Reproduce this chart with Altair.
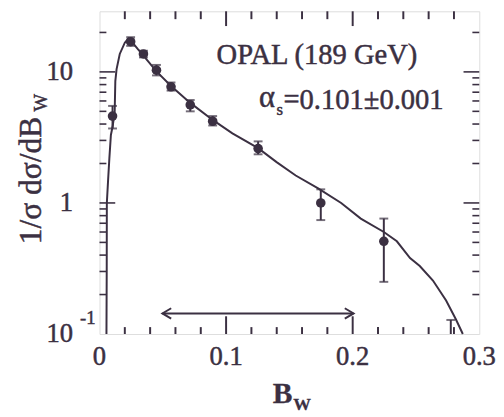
import altair as alt
import pandas as pd

INK = "#3b3042"
FONT = "Liberation Serif, Times New Roman, DejaVu Serif, serif"

# measured data points (B_W, 1/sigma dsigma/dB_W) with error bars
pt_x = [0.0103, 0.0246, 0.0347, 0.0450, 0.0565, 0.0717, 0.0894, 0.1253, 0.1748, 0.2246]
pt_y = [4.6, 17.0, 13.7, 10.3, 7.7, 5.6, 4.2, 2.6, 1.0, 0.51]
pt_lo = [3.7, 15.8, 12.9, 9.4, 7.2, 5.0, 3.9, 2.35, 0.74, 0.25]
pt_hi = [5.5, 18.4, 14.5, 11.3, 8.3, 6.1, 4.6, 2.95, 1.27, 0.76]

# partially visible error bar at the end of the range
edge_x = [0.2775]
edge_lo = [0.1]
edge_hi = [0.128]

# theory curve
cx = [0.0055, 0.0057, 0.0058, 0.0068, 0.0078, 0.0090, 0.0105, 0.0120, 0.0125, 0.0135,
      0.0160, 0.0200, 0.0228, 0.0255, 0.0303, 0.0350, 0.0450, 0.0565, 0.0717, 0.0894,
      0.1050, 0.1253, 0.1399, 0.1550, 0.1727, 0.1909, 0.2064, 0.2246, 0.2349, 0.2453,
      0.2530, 0.2634, 0.2738, 0.2816, 0.2870]
cy = [0.1, 0.3, 1.0, 1.5, 2.2, 3.3, 3.9, 5.0, 8.5, 10.5,
      13.7, 16.7, 18.0, 17.0, 14.9, 13.2, 10.1, 7.8, 5.8, 4.3,
      3.4, 2.62, 2.05, 1.62, 1.29, 1.0, 0.76, 0.60, 0.51, 0.38,
      0.33, 0.256, 0.18, 0.129, 0.1]

# fit range arrow
arrow_x = [0.0497, 0.2007]
arrow_y = [0.1436, 0.1436]

# ticks and tick labels
x_minor = [0.02, 0.04, 0.06, 0.08, 0.12, 0.14, 0.16, 0.18, 0.22, 0.24, 0.26, 0.28]
x_major = [0.1, 0.2]
y_minor = [0.2, 0.3, 0.4, 0.5, 0.6, 0.7, 0.8, 0.9, 2, 3, 4, 5, 6, 7, 8, 9, 20]
y_major = [1, 10]
x_label_pos = [0, 0.1, 0.2, 0.3]
x_label_txt = ["0", "0.1", "0.2", "0.3"]
y_label_pos = [0.1, 1, 10]
y_label_txt = ["10", "1", "10"]

W, H = 386, 328
XD = [0, 0.3]
YD = [0.1, 29.0]

xs = alt.Scale(domain=XD, nice=False, zero=False)
ys = alt.Scale(type="log", domain=YD, nice=False)
X = lambda f: alt.X(f, scale=xs, axis=None)
Y = lambda f: alt.Y(f, scale=ys, axis=None)

pts = pd.DataFrame({"x": pt_x, "y": pt_y, "lo": pt_lo, "hi": pt_hi})
edge = pd.DataFrame({"x": edge_x, "lo": edge_lo, "hi": edge_hi})
curve = pd.DataFrame({"x": cx, "y": cy})
arrow = pd.DataFrame({"x": arrow_x, "y": arrow_y})

line = alt.Chart(curve).mark_line(color=INK, strokeWidth=2).encode(
    x=X("x:Q"), y=Y("y:Q"), order="x:Q")

err = alt.Chart(pts).mark_rule(color=INK, strokeWidth=2).encode(
    x=X("x:Q"), y=Y("lo:Q"), y2="hi:Q")
cap_lo = alt.Chart(pts).mark_tick(color=INK, orient="horizontal", size=9, thickness=2).encode(
    x=X("x:Q"), y=Y("lo:Q"))
cap_hi = alt.Chart(pts).mark_tick(color=INK, orient="horizontal", size=9, thickness=2).encode(
    x=X("x:Q"), y=Y("hi:Q"))
dots = alt.Chart(pts).mark_circle(color=INK, size=95, opacity=1).encode(
    x=X("x:Q"), y=Y("y:Q"))

edge_err = alt.Chart(edge).mark_rule(color=INK, strokeWidth=2).encode(
    x=X("x:Q"), y=Y("lo:Q"), y2="hi:Q")
edge_cap = alt.Chart(edge).mark_tick(color=INK, orient="horizontal", size=9, thickness=2).encode(
    x=X("x:Q"), y=Y("hi:Q"))

arrow_line = alt.Chart(arrow).mark_line(color=INK, strokeWidth=2).encode(
    x=X("x:Q"), y=Y("y:Q"))
arrow_l = alt.Chart(arrow.iloc[[0]]).mark_point(
    shape="M1.7,-1 L0,0 L1.7,1", size=110, filled=False, color=INK, strokeWidth=2, opacity=1
).encode(x=X("x:Q"), y=Y("y:Q"))
arrow_r = alt.Chart(arrow.iloc[[1]]).mark_point(
    shape="M-1.7,-1 L0,0 L-1.7,1", size=110, filled=False, color=INK, strokeWidth=2, opacity=1
).encode(x=X("x:Q"), y=Y("y:Q"))


def xticks(vals, y0, y1):
    d = pd.DataFrame({"x": vals})
    return alt.Chart(d).mark_rule(color=INK, strokeWidth=2).encode(
        x=X("x:Q"), y=alt.value(y0), y2=alt.value(y1))


def yticks(vals, x0, x1):
    d = pd.DataFrame({"y": vals})
    return alt.Chart(d).mark_rule(color=INK, strokeWidth=1.6).encode(
        y=Y("y:Q"), x=alt.value(x0), x2=alt.value(x1))


ticks = [
    xticks(x_minor, H, H - 7), xticks(x_major, H, H - 18),
    xticks(x_minor, 0, 8), xticks(x_major, 0, 15),
    yticks(y_minor, 0, 7), yticks(y_major, 0, 16),
    yticks(y_minor, W, W - 7), yticks(y_major, W, W - 16),
]

TXT = dict(font=FONT, color=INK, stroke=INK, strokeWidth=0.5, baseline="middle")

xlab = alt.Chart(pd.DataFrame({"x": x_label_pos, "t": x_label_txt})).mark_text(
    fontSize=27, align="center", **TXT
).encode(x=X("x:Q"), y=alt.value(352), text="t:N")
ylab = alt.Chart(pd.DataFrame({"y": y_label_pos, "t": y_label_txt})).mark_text(
    fontSize=27, align="right", **TXT
).encode(y=Y("y:Q"), x=alt.value(-27), text="t:N")


def label(text, x, y, size, align="left", angle=0, weight="normal", sw=0.5):
    d = pd.DataFrame({"t": [text]})
    return alt.Chart(d).mark_text(
        font=FONT, fontSize=size, color=INK, stroke=INK, strokeWidth=sw,
        align=align, baseline="middle", angle=angle, fontWeight=weight
    ).encode(text="t:N", x=alt.value(x), y=alt.value(y))


texts = [
    label("OPAL (189 GeV)", 221, 45, 29, align="center"),
    label("\u03b1", 162, 88, 31),
    label("s", 180, 100, 17),
    label("=0.101\u00b10.001", 187, 90, 29),
    label("1/\u03c3 d\u03c3/dB", -69, 172, 32, align="center", angle=270),
    label("W", -59, 93, 19, align="center", angle=270),
    label("B", 186, 389, 30, align="center", weight="bold", sw=0.3),
    label("W", 206, 400, 18, align="center", weight="bold", sw=0.3),
    label("-1", -12, 312, 19, align="center"),
]

chart = alt.layer(
    line, *ticks, err, cap_lo, cap_hi, dots, edge_err, edge_cap,
    arrow_line, arrow_l, arrow_r, xlab, ylab, *texts
).properties(
    width=W, height=H,
    autosize=alt.AutoSizeParams(type="none"),
    padding={"left": 93, "top": 0, "right": 17, "bottom": 80},
).configure_view(stroke=INK, strokeWidth=2.5).configure(background="white")

chart.save("out.html", embed_options={"renderer": "svg", "actions": False})
